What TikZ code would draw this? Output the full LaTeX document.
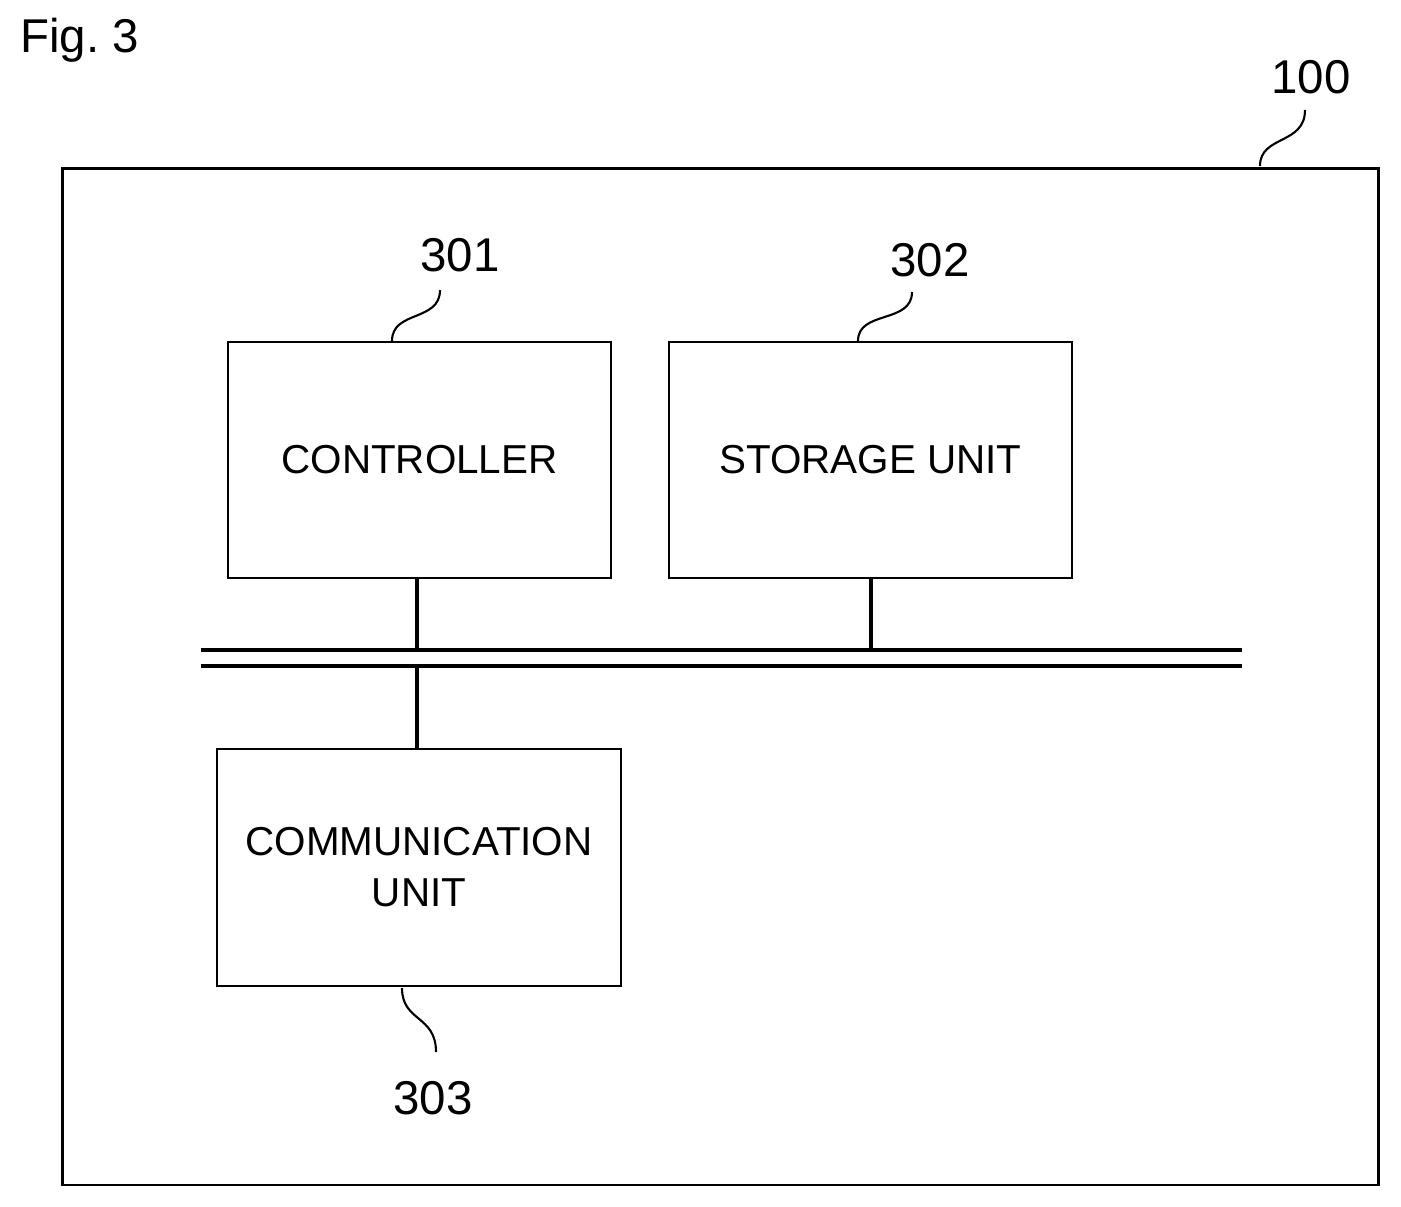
\documentclass[tikz,border=0pt]{standalone}
\usepackage{fontspec}
\setmainfont{Liberation Sans}
\usetikzlibrary{positioning}
\tikzset{
  unit/.style={rectangle, draw, line width=1.6pt, align=center, font=\fontsize{23}{29}\selectfont},
  refnum/.style={font=\fontsize{27}{32}\selectfont},
  leader/.style={line width=1.2pt},
  busline/.style={line width=2pt}
}
\begin{document}
\begin{tikzpicture}[x=0.02cm, y=-0.02cm]
        \useasboundingbox (0,0) rectangle (1401,1207);
        % Outer frame
        \node[rectangle, draw, line width=1.6pt, minimum width=26.34cm, minimum height=20.34cm] (device) at (720.5,676.5) {};
        \node[refnum, anchor=west] (fig) at (14,40) {Fig.\ 3};
        \node[refnum] (n100) at (1311,77) {100};

        % Units
        \node[unit, minimum width=7.66cm, minimum height=4.72cm] (ctrl) at (419.5,460) {CONTROLLER};
        \node[unit, minimum width=8.06cm, minimum height=4.72cm] (store) at (870.5,460) {STORAGE UNIT};
        \node[unit, minimum width=8.08cm, minimum height=4.74cm] (comm) at (419,867.5) {COMMUNICATION\\UNIT};

        % Reference numbers
        \node[refnum] (n301) at (460,255) {301};
        \node[refnum] (n302) at (930,260) {302};
        \node[refnum] (n303) at (433,1098) {303};

        % Bus
        \coordinate (busAl) at (201,650);
        \coordinate (busAr) at (1242,650);
        \coordinate (busBl) at (201,666);
        \coordinate (busBr) at (1242,666);
        \draw[busline] (busAl) -- (busAr);
        \draw[busline] (busBl) -- (busBr);
        \coordinate (tapC) at (417,650);
        \coordinate (tapS) at (871,650);
        \coordinate (tapM) at (417,666);

        % Connections
        \draw[busline] (ctrl.south -| tapC) -- (tapC);
        \draw[busline] (store.south -| tapS) -- (tapS);
        \draw[busline] (tapM) -- (comm.north -| tapM);

        % Leaders
        \draw[leader] (1260,166) .. controls (1260,135) and (1305,145) .. (1305,110);
        \draw[leader] (392,341) .. controls (392,310) and (440,322) .. (440,290);
        \draw[leader] (858,341) .. controls (858,310) and (912,324) .. (912,292);
        \draw[leader] (402,988) .. controls (402,1022) and (436,1015) .. (436,1052);
\end{tikzpicture}
\end{document}
